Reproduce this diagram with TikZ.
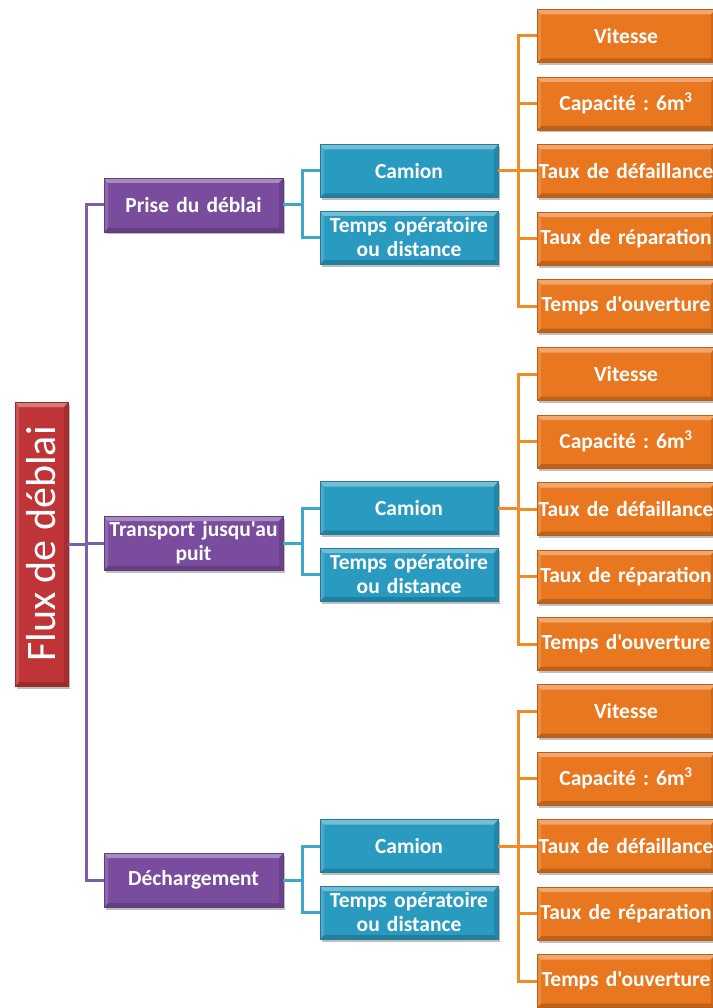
\documentclass[tikz,border=0pt]{standalone}
\usepackage{fontspec}
\setmainfont{Carlito}[Ligatures=TeXOff]
\usetikzlibrary{positioning, shadows, calc}
\frenchspacing
\definecolor{fluxred}{HTML}{BF3537}
\definecolor{stepviolet}{HTML}{7A4C9E}
\definecolor{itemteal}{HTML}{2A9BC0}
\definecolor{paramorange}{HTML}{E8771F}
\definecolor{violetline}{HTML}{7D5EA8}
\definecolor{tealline}{HTML}{3FA6C6}
\definecolor{orangeline}{HTML}{F08B26}
\tikzset{
  % Boxes with a bevelled face
  bevel/.style={rectangle, draw=#1!80!black, line width=0.5pt, fill=#1, text=white, align=center, inner sep=1pt,
    drop shadow={shadow xshift=2pt, shadow yshift=-2.5pt, opacity=0.25, fill=black},
    path picture={
      \fill[white, opacity=0.35] (path picture bounding box.north west) -- (path picture bounding box.north east)
        -- ([xshift=-4pt, yshift=-5pt]path picture bounding box.north east) -- ([xshift=4pt, yshift=-5pt]path picture bounding box.north west) -- cycle;
      \fill[black, opacity=0.18] (path picture bounding box.south west) -- (path picture bounding box.south east)
        -- ([xshift=-4pt, yshift=4pt]path picture bounding box.south east) -- ([xshift=4pt, yshift=4pt]path picture bounding box.south west) -- cycle;
      \fill[white, opacity=0.15] (path picture bounding box.north west) -- ([xshift=4pt, yshift=-5pt]path picture bounding box.north west)
        -- ([xshift=4pt, yshift=4pt]path picture bounding box.south west) -- (path picture bounding box.south west) -- cycle;
      \fill[black, opacity=0.12] (path picture bounding box.north east) -- ([xshift=-4pt, yshift=-5pt]path picture bounding box.north east)
        -- ([xshift=-4pt, yshift=4pt]path picture bounding box.south east) -- (path picture bounding box.south east) -- cycle;
    }},
  rootbox/.style={bevel=fluxred, minimum width=53pt, minimum height=284pt, font=\fontsize{42}{44}\selectfont},
  stepbox/.style={bevel=stepviolet, minimum height=54pt, text width=182pt, inner xsep=-1.5pt, font=\fontsize{21.5}{24}\selectfont\bfseries},
  itembox/.style={bevel=itemteal, minimum height=53pt, text width=182pt, inner xsep=-2pt, font=\fontsize{21.5}{24}\selectfont\bfseries},
  parambox/.style={bevel=paramorange, minimum height=53pt, text width=182pt, inner xsep=-2pt, font=\fontsize{21.5}{24}\selectfont\bfseries},
  link/.style={line width=3pt, draw=#1},
}

\begin{document}
\begin{tikzpicture}[x=1pt, y=-1pt, node distance=14pt]
    \useasboundingbox[fill=white] (0,0) rectangle (712,1008);

    % Root
    \node[rootbox] (flux) at (41.5,544) {\rotatebox{90}{Flux de déblai}};

    % Steps
    \node[stepbox] (prise) at (193.5,205) {Prise du déblai};
    \node[stepbox] (transport) at (193.5,543) {Transport jusqu'au\\puit};
    \node[stepbox] (decharge) at (193.5,880) {Déchargement};

    % Items
    \node[itembox] (cam1) at (409,171) {Camion};
    \node[itembox, below=13pt of cam1] (tps1) {Temps opératoire\\ou distance};
    \node[itembox] (cam2) at (409,508) {Camion};
    \node[itembox, below=13pt of cam2] (tps2) {Temps opératoire\\ou distance};
    \node[itembox] (cam3) at (409,846) {Camion};
    \node[itembox, below=13pt of cam3] (tps3) {Temps opératoire\\ou distance};

    % Root to steps
    \draw[link=violetline] (flux.east) -- ++(18,0) coordinate (fork) |- (prise.west);
    \draw[link=violetline] (fork) |- (transport.west);
    \draw[link=violetline] (fork) |- (decharge.west);

    % Steps to items
    \foreach \s/\g in {prise/1, transport/2, decharge/3} {
      \draw[link=tealline] (\s.east) -- ++(19,0) coordinate (sfork\g) |- (cam\g.west);
      \draw[link=tealline] (sfork\g) |- (tps\g.west);
    }

    % Parameters of each truck
    \foreach \g/\o in {1/0, 2/338, 3/675} {
      \node[parambox] (vit\g) at (626,36+\o) {Vitesse};
      \node[parambox, below=of vit\g] (cap\g) {Capacité : 6m\textsuperscript{3}};
      \node[parambox, below=of cap\g] (def\g) {Taux de défaillance};
      \node[parambox, below=of def\g] (rep\g) {Taux de réparation};
      \node[parambox, below=of rep\g] (ouv\g) {Temps d'ouverture};
      \draw[link=orangeline] (cam\g.east) -- ++(20,0) coordinate (cfork\g);
      \foreach \p in {vit, cap, def, rep, ouv}
        \draw[link=orangeline] (cfork\g) |- (\p\g.west);
    }
\end{tikzpicture}
\end{document}
